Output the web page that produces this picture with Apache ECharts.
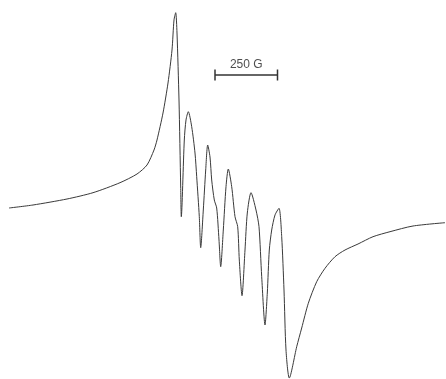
<!DOCTYPE html>
<html><head><meta charset="utf-8">
<script src="https://cdn.jsdelivr.net/npm/echarts@6/dist/echarts.min.js"></script>
<style>html,body{margin:0;padding:0;background:#fff}#c{width:446px;height:379px}</style>
</head><body><div id="c"></div>
<script>
// EPR spectrum: field position (px units) and signal (px units, downward positive)
const fieldX = [9,33,67,93,120,137,147,154,157,163,168,172,174,175.7,177,179,180.7,181.3,184.3,186,188.3,191.7,195,196.7,199.3,200.7,203.3,205.7,207.7,210,211.7,214.3,216.7,219,220.7,223.3,226,228.3,231.7,235,237.7,239.3,242,245,247.3,251,256,259,261.7,265,267.3,269.3,271.7,275,279,281.7,284,286,289.3,296.7,301.7,308.3,316.7,325,335,345,358,373,390,413,445];
const signal = [208,205,199,192.7,182.7,174,165,150,140,113,83,50,20,12.7,33,100,187,216.7,140,120,111.7,126.7,153,176.7,216.7,247.7,210,170,145,157,180,200,208,240,266.7,230,186.7,169,186.7,216.7,226.7,260,295.7,250,213,192.7,210,226.7,276.7,325,293,250,230,215,208.3,236.7,290,350,378,346.7,328,303.3,281.7,268.3,256.7,250,244,236.7,231.7,226,222.7];
const scaleBarX = [215,277.5];
const scaleBarY = 75;
const scaleLabel = '250 G';

const chart = echarts.init(document.getElementById('c'), null, {renderer:'canvas'});
chart.setOption({
  animation:false,
  backgroundColor:'#fff',
  grid:{left:0,right:0,top:0,bottom:0},
  xAxis:{type:'value',min:0,max:446,show:false},
  yAxis:{type:'value',min:0,max:379,inverse:true,show:false},
  series:[
    {type:'line',data:fieldX.map((x,i)=>[x,signal[i]]),symbol:'none',smooth:0.25,
     lineStyle:{color:'#3a3a3a',width:1}},
    {type:'line',data:scaleBarX.map(x=>[x,scaleBarY]),symbol:'rect',symbolSize:[1.5,11],
     itemStyle:{color:'#333'},lineStyle:{color:'#333',width:1.5}},
    {type:'scatter',data:[[(scaleBarX[0]+scaleBarX[1])/2,scaleBarY]],symbolSize:0,
     label:{show:true,position:'top',distance:4,formatter:scaleLabel,color:'#222',fontSize:12,fontFamily:'Liberation Sans, Arial, sans-serif'}}
  ]
});
</script></body></html>
